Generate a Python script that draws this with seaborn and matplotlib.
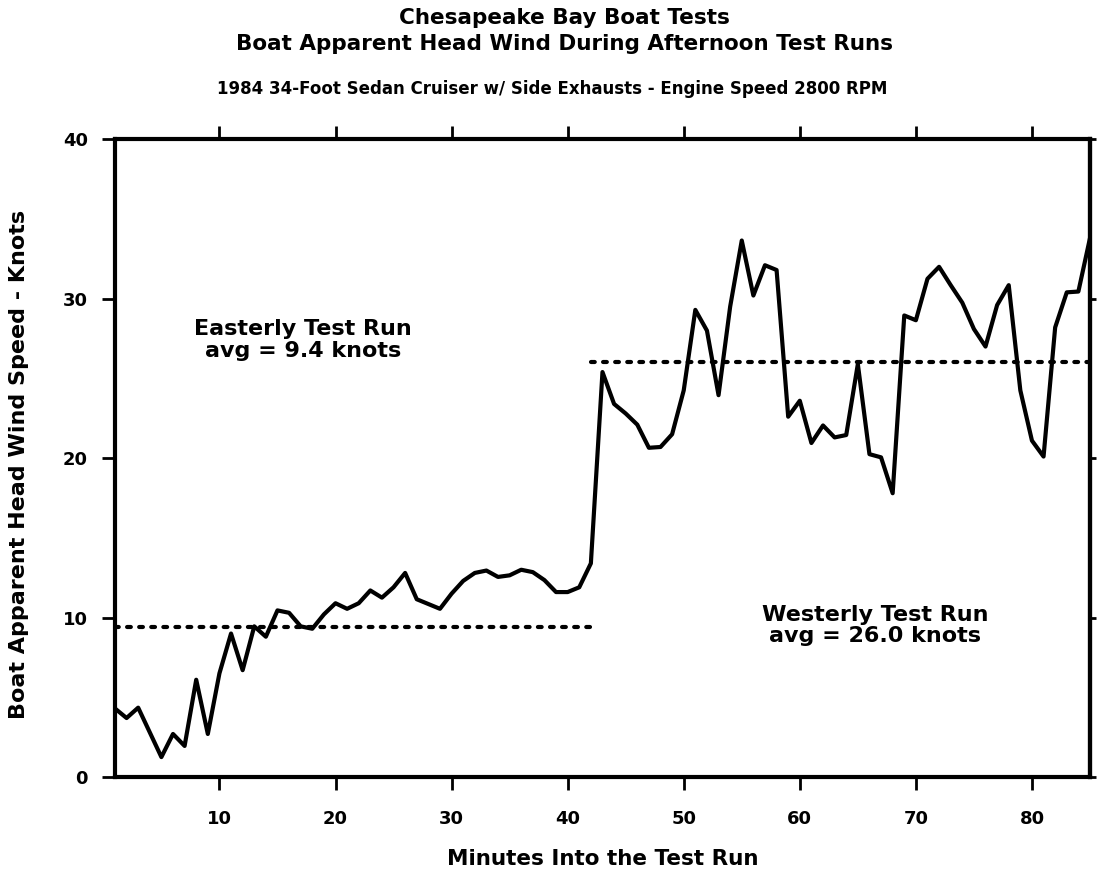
import numpy as np
import pandas as pd
import seaborn as sns
import matplotlib.pyplot as plt

# minutes into the test run and apparent head wind (knots)
minutes = list(range(1, 86))
wind_speed = [4.3, 3.7, 4.35, 2.8, 1.25, 2.7, 1.95, 6.1, 2.7, 6.5,
              9.0, 6.7, 9.45, 8.8, 10.45, 10.3, 9.45, 9.3, 10.2, 10.9,
              10.55, 10.9, 11.7, 11.25, 11.9, 12.8, 11.15, 10.85, 10.55, 11.5,
              12.3, 12.8, 12.95, 12.55, 12.65, 13.0, 12.85, 12.35, 11.6, 11.6,
              11.9, 13.4, 25.4, 23.4, 22.8, 22.1, 20.65, 20.7, 21.5, 24.25,
              29.3, 28.0, 23.95, 29.5, 33.65, 30.2, 32.1, 31.8, 22.6, 23.6,
              20.95, 22.05, 21.3, 21.45, 25.9, 20.25, 20.05, 17.8, 28.95, 28.65,
              31.25, 32.0, 30.85, 29.75, 28.1, 27.0, 29.6, 30.85, 24.25, 21.1,
              20.1, 28.2, 30.4, 30.45, 33.8]

# run averages and the minute span each one covers
run_names = ['Easterly Test Run', 'Westerly Test Run']
run_avg = [9.4, 26.0]
run_start = [1, 42]
run_end = [42, 85]
label_x = [17.2, 66.5]
label_y = [27.4, 9.5]

df = pd.DataFrame({'Minute': minutes, 'Wind': wind_speed})

sns.set_style('ticks')
plt.rcParams['font.family'] = ['DejaVu Sans']
plt.rcParams['font.weight'] = 'bold'
plt.rcParams['text.color'] = 'black'
plt.rcParams['axes.labelcolor'] = 'black'

fig = plt.figure(figsize=(10.98, 8.76), dpi=100)
ax = fig.add_axes([0.1047, 0.113, 0.888, 0.728])

sns.lineplot(data=df, x='Minute', y='Wind', color='black', linewidth=3.0, ax=ax)

for name, avg, x0, x1, tx, ty in zip(run_names, run_avg, run_start, run_end, label_x, label_y):
    ax.plot([x0, x1], [avg, avg], color='black', linewidth=3.0,
            linestyle=(0, (0.9, 2.0)), dash_capstyle='round')
    ax.text(tx, ty, f'{name}\navg = {avg:.1f} knots', ha='center', va='center',
            fontsize=16, fontweight='bold', linespacing=1.1)

ax.set_xlim(1, 85)
ax.set_ylim(0, 40)
ax.set_xticks(range(10, 81, 10))
ax.set_yticks(range(0, 41, 10))
for side in ['top', 'right', 'bottom', 'left']:
    ax.spines[side].set_visible(True)
    ax.spines[side].set_linewidth(3.0)
    ax.spines[side].set_color('black')
ax.tick_params(axis='both', which='major', direction='out', length=9.5, width=2,
               colors='black', labelsize=13, pad=14, top=True, left=True, bottom=True,
               right=False)
ax.tick_params(axis='y', pad=10)
for lab in ax.get_xticklabels() + ax.get_yticklabels():
    lab.set_fontweight('bold')

# short outward ticks on the right frame
sec = ax.secondary_yaxis('right')
sec.set_yticks(range(0, 41, 10))
sec.tick_params(direction='out', length=4, width=2, colors='black', labelright=False)
sec.spines['right'].set_linewidth(3.0)
sec.spines['right'].set_color('black')

ax.set_xlabel('Minutes Into the Test Run', fontsize=15.5, fontweight='bold')
ax.set_ylabel('Boat Apparent Head Wind Speed - Knots', fontsize=16, fontweight='bold')
ax.xaxis.set_label_coords(0.5, -0.113)
ax.yaxis.set_label_coords(-0.088, 0.49)

fig.text(0.514, 0.979, 'Chesapeake Bay Boat Tests', ha='center', va='center',
         fontsize=15.5, fontweight='bold')
fig.text(0.514, 0.950, 'Boat Apparent Head Wind During Afternoon Test Runs', ha='center',
         va='center', fontsize=15.5, fontweight='bold')
fig.text(0.503, 0.898, '1984 34-Foot Sedan Cruiser w/ Side Exhausts - Engine Speed 2800 RPM',
         ha='center', va='center', fontsize=12, fontweight='bold')

plt.savefig('out.png', dpi=100)
